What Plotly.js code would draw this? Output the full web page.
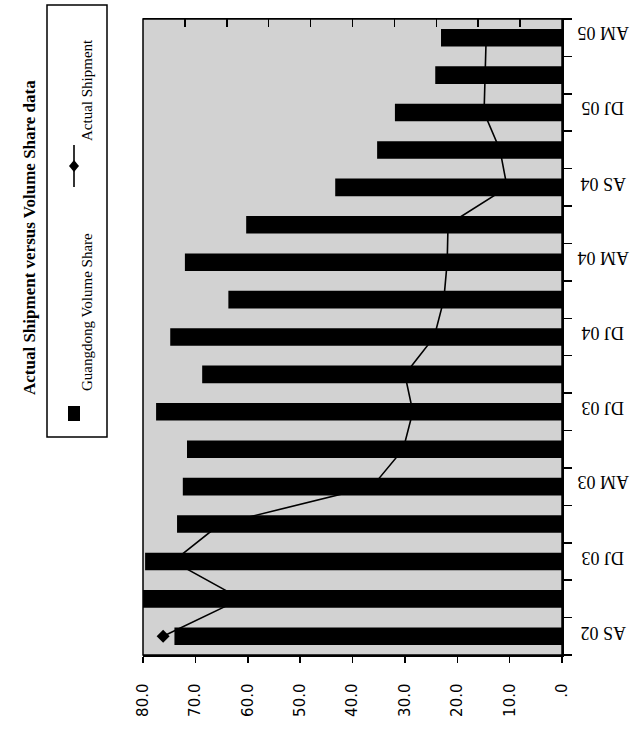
<!DOCTYPE html>
<html>
<head>
<meta charset="utf-8">
<script src="https://cdn.plot.ly/plotly-3.0.1.min.js"></script>
<style>html,body{margin:0;padding:0;background:#fff;}#chart{width:642px;height:732px;}</style>
</head>
<body>
<div id="chart"></div>
<script>
// ---- data ----
const categories = ["AS 02","ON 02","DJ 03","FM 03","AM 03","JJ 03","AS 03","ON 03","DJ 04","FM 04","AM 04","JJ 04","AS 04","ON 04","DJ 05","FM 05","AM 05"];
const volumeShare = [74.0, 80.0, 79.6, 73.5, 72.4, 71.6, 77.5, 68.7, 74.8, 63.7, 72.0, 60.3, 43.3, 35.3, 31.9, 24.2, 23.1];
const actualShipment = [95.2, 76.6, 92.8, 81.6, 45.3, 37.9, 35.6, 37.5, 30.5, 28.2, 27.4, 27.2, 13.1, 14.8, 18.6, 18.4, 18.1];
const catTickIndex = [0, 2, 4, 6, 8, 10, 12, 14, 16];
const catTickLabels = ["AS 02","DJ 03","AM 03","DJ 03","DJ 04","AM 04","AS 04","DJ 05","AM 05"];
const valueTicks = [0, 10, 20, 30, 40, 50, 60, 70, 80];
const valueTickLabels = [".0","10.0","20.0","30.0","40.0","50.0","60.0","70.0","80.0"];
const titleText = "Actual Shipment versus Volume Share data";
const seriesNames = ["Guangdong Volume Share", "Actual Shipment"];

// ---- layout helpers ----
const W = 642, H = 732, L = 143, R = 562, T = 19, B = 655;
const px = x => (x - L) / (R - L);
const py = y => (B - y) / (B - T);
const pos = categories.map((c, i) => i);
const boundaries = [];
for (let i = 0; i <= categories.length; i++) boundaries.push(i - 0.5);

const traces = [
  {
    type: 'bar', orientation: 'h', name: seriesNames[0],
    x: volumeShare, y: pos, hovertext: categories, hoverinfo: 'text+x',
    textposition: 'none',
    marker: {color: '#000000', line: {width: 0}},
    xaxis: 'x', yaxis: 'y'
  },
  {
    type: 'scatter', mode: 'lines+markers', name: seriesNames[1],
    x: actualShipment, y: pos, hovertext: categories, hoverinfo: 'text+x',
    line: {color: '#000000', width: 1.6},
    marker: {symbol: 'diamond', size: 10, color: '#000000'},
    xaxis: 'x2', yaxis: 'y'
  }
];

const serif = 'Liberation Serif, Times New Roman, serif';

const catAnnotations = catTickIndex.map((idx, k) => ({
  text: catTickLabels[k], xref: 'paper', yref: 'y', x: px(603), y: idx,
  yshift: 4, textangle: 180, showarrow: false, xanchor: 'center', yanchor: 'middle',
  font: {family: serif, size: 18, color: '#000'}
}));

const layout = {
  width: W, height: H,
  margin: {l: L, r: W - R, t: T, b: H - B, pad: 0},
  paper_bgcolor: '#ffffff', plot_bgcolor: '#d2d2d2',
  showlegend: false,
  bargap: 0.53,
  xaxis: {
    range: [80, 0], autorange: false,
    tickvals: valueTicks, ticktext: valueTickLabels,
    tickangle: -90, ticks: 'outside', ticklen: 6, tickwidth: 1.5, tickcolor: '#000',
    ticklabelstandoff: 15,
    showline: true, linecolor: '#000', linewidth: 1.5,
    showgrid: false, zeroline: false,
    tickfont: {family: 'DejaVu Sans, sans-serif', size: 15, color: '#000'}
  },
  xaxis2: {
    overlaying: 'x', side: 'top', range: [100, 0], autorange: false,
    dtick: 10, tick0: 0, showticklabels: false,
    ticks: 'inside', ticklen: 8, tickwidth: 1.5, tickcolor: '#000',
    showline: true, linecolor: '#000', linewidth: 1.5,
    showgrid: false, zeroline: false
  },
  yaxis: {
    side: 'right', range: [-0.5, categories.length - 0.5], autorange: false,
    tickvals: catTickIndex, ticktext: catTickLabels, showticklabels: false,
    ticks: '',
    minor: {tickvals: boundaries, ticks: 'outside', ticklen: 8, tickwidth: 1.5, tickcolor: '#000'},
    showline: true, linecolor: '#000', linewidth: 1.5,
    showgrid: false, zeroline: false
  },
  shapes: [
    {type: 'rect', xref: 'paper', yref: 'paper', x0: 0, x1: 1, y0: 0, y1: 1,
     line: {color: '#000', width: 1.5}, layer: 'above'},
    {type: 'rect', xref: 'paper', yref: 'paper', x0: px(47), x1: px(107), y0: py(437), y1: py(5),
     line: {color: '#000', width: 1.5}, fillcolor: '#ffffff'},
    {type: 'rect', xref: 'paper', yref: 'paper', x0: px(68), x1: px(80), y0: py(421), y1: py(406),
     line: {width: 0}, fillcolor: '#000'},
    {type: 'line', xref: 'paper', yref: 'paper', x0: px(74), x1: px(74), y0: py(187), y1: py(145),
     line: {color: '#000', width: 1.6}},
    {type: 'path', xref: 'paper', yref: 'paper',
     path: `M ${px(74)} ${py(160)} L ${px(79)} ${py(166)} L ${px(74)} ${py(172)} L ${px(69)} ${py(166)} Z`,
     line: {width: 0}, fillcolor: '#000'}
  ],
  annotations: [
    {text: '<b>' + titleText + '</b>', xref: 'paper', yref: 'paper', x: px(29), y: py(238),
     textangle: -90, showarrow: false, xanchor: 'center', yanchor: 'middle',
     font: {family: serif, size: 17, color: '#000'}},
    {text: seriesNames[0], xref: 'paper', yref: 'paper', x: px(87), y: py(312),
     textangle: -90, showarrow: false, xanchor: 'center', yanchor: 'middle',
     font: {family: serif, size: 15, color: '#000'}},
    {text: seriesNames[1], xref: 'paper', yref: 'paper', x: px(87), y: py(90),
     textangle: -90, showarrow: false, xanchor: 'center', yanchor: 'middle',
     font: {family: serif, size: 15, color: '#000'}}
  ].concat(catAnnotations)
};

Plotly.newPlot('chart', traces, layout, {displayModeBar: false, staticPlot: true});
</script>
</body>
</html>
